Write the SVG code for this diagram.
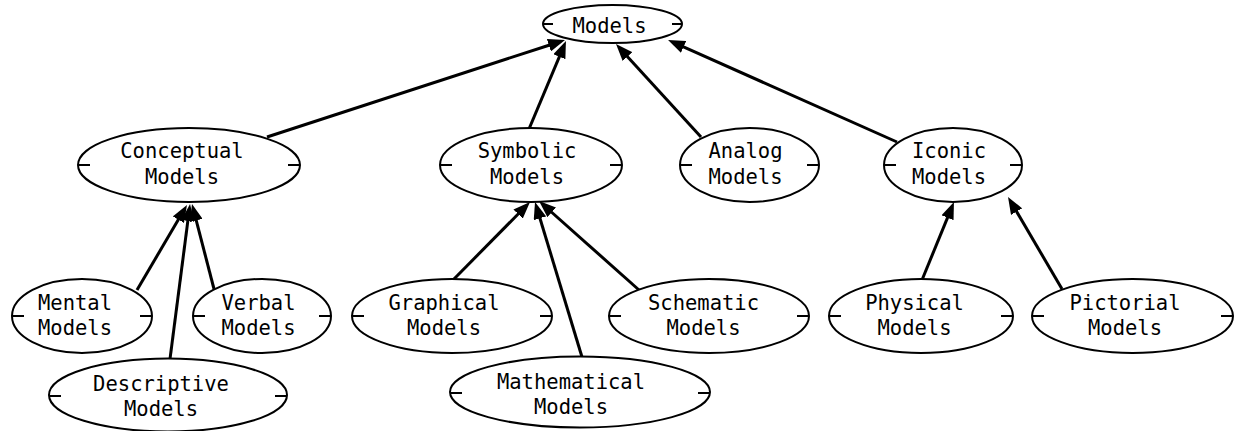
<svg xmlns="http://www.w3.org/2000/svg" width="1235" height="431" viewBox="0 0 1235 431">
<style>
.n ellipse{fill:#fff;stroke:#000;stroke-width:2}
.n line{stroke:#000;stroke-width:2}
.n text{font-family:"DejaVu Sans Mono",monospace;font-size:20.5px;fill:#000;text-anchor:middle}
.e line{stroke:#000;stroke-width:3;marker-end:url(#ah)}
</style>
<defs>
<marker id="ah" markerUnits="userSpaceOnUse" markerWidth="17" markerHeight="13" refX="5" refY="6.5" orient="auto">
<path d="M0,0 L17,6.5 L0,13 z" fill="#000"/>
</marker>
</defs>
<rect width="1235" height="431" fill="#fff"/>
<g id="edges" class="e">
<line x1="267" y1="137" x2="553.6" y2="43.7"/>
<line x1="529" y1="129" x2="561.3" y2="52.1"/>
<line x1="701" y1="137" x2="624.1" y2="52.9"/>
<line x1="897" y1="142" x2="679.0" y2="44.9"/>
<line x1="137" y1="290" x2="180.9" y2="215.3"/>
<line x1="170" y1="359" x2="188.5" y2="215.9"/>
<line x1="214" y1="289" x2="195.0" y2="215.6"/>
<line x1="453" y1="280" x2="521.6" y2="210.5"/>
<line x1="582" y1="357" x2="538.5" y2="213.5"/>
<line x1="639" y1="290" x2="548.0" y2="209.0"/>
<line x1="922" y1="280" x2="949.4" y2="213.1"/>
<line x1="1062" y1="289" x2="1014.1" y2="207.3"/>
</g>
<g id="models" class="n">
<ellipse cx="612.5" cy="24" rx="69.5" ry="19"/>
<line x1="543" y1="24" x2="553" y2="24"/><line x1="672" y1="24" x2="682" y2="24"/>
<text x="609.5" y="33">Models</text>
</g>
<g id="conceptual" class="n">
<ellipse cx="189" cy="165" rx="111" ry="37"/>
<line x1="78" y1="165" x2="90" y2="165"/><line x1="288" y1="165" x2="300" y2="165"/>
<text x="182" y="158">Conceptual</text><text x="182" y="184">Models</text>
</g>
<g id="symbolic" class="n">
<ellipse cx="531" cy="165" rx="91" ry="37"/>
<line x1="440" y1="165" x2="452" y2="165"/><line x1="610" y1="165" x2="622" y2="165"/>
<text x="527" y="158">Symbolic</text><text x="527" y="184">Models</text>
</g>
<g id="analog" class="n">
<ellipse cx="749.5" cy="165" rx="69.5" ry="37"/>
<line x1="680" y1="165" x2="692" y2="165"/><line x1="807" y1="165" x2="819" y2="165"/>
<text x="745.5" y="158">Analog</text><text x="745.5" y="184">Models</text>
</g>
<g id="iconic" class="n">
<ellipse cx="953" cy="165" rx="69" ry="37"/>
<line x1="884" y1="165" x2="896" y2="165"/><line x1="1010" y1="165" x2="1022" y2="165"/>
<text x="949" y="158">Iconic</text><text x="949" y="184">Models</text>
</g>
<g id="mental" class="n">
<ellipse cx="82" cy="316" rx="70" ry="37"/>
<line x1="12" y1="316" x2="24" y2="316"/><line x1="140" y1="316" x2="152" y2="316"/>
<text x="75" y="310">Mental</text><text x="75" y="335">Models</text>
</g>
<g id="verbal" class="n">
<ellipse cx="262" cy="316" rx="69" ry="37"/>
<line x1="193" y1="316" x2="205" y2="316"/><line x1="319" y1="316" x2="331" y2="316"/>
<text x="258.5" y="310">Verbal</text><text x="258.5" y="335">Models</text>
</g>
<g id="descriptive" class="n">
<ellipse cx="168" cy="395" rx="119" ry="36.5"/>
<line x1="49" y1="396" x2="61" y2="396"/><line x1="275" y1="396" x2="287" y2="396"/>
<text x="161" y="391">Descriptive</text><text x="161" y="416">Models</text>
</g>
<g id="graphical" class="n">
<ellipse cx="452" cy="316" rx="100" ry="37"/>
<line x1="352" y1="316" x2="364" y2="316"/><line x1="540" y1="316" x2="552" y2="316"/>
<text x="444" y="310">Graphical</text><text x="444" y="335">Models</text>
</g>
<g id="schematic" class="n">
<ellipse cx="709" cy="316" rx="100" ry="37"/>
<line x1="609" y1="316" x2="621" y2="316"/><line x1="797" y1="316" x2="809" y2="316"/>
<text x="703.5" y="310">Schematic</text><text x="703.5" y="335">Models</text>
</g>
<g id="mathematical" class="n">
<ellipse cx="580" cy="392" rx="130" ry="35.5"/>
<line x1="450" y1="393" x2="462" y2="393"/><line x1="698" y1="393" x2="710" y2="393"/>
<text x="571" y="389">Mathematical</text><text x="571" y="414">Models</text>
</g>
<g id="physical" class="n">
<ellipse cx="921" cy="316" rx="92" ry="37"/>
<line x1="829" y1="316" x2="841" y2="316"/><line x1="1001" y1="316" x2="1013" y2="316"/>
<text x="914.5" y="310">Physical</text><text x="914.5" y="335">Models</text>
</g>
<g id="pictorial" class="n">
<ellipse cx="1132.5" cy="316" rx="100.5" ry="37"/>
<line x1="1032" y1="316" x2="1044" y2="316"/><line x1="1221" y1="316" x2="1233" y2="316"/>
<text x="1125" y="310">Pictorial</text><text x="1125" y="335">Models</text>
</g>
</svg>
